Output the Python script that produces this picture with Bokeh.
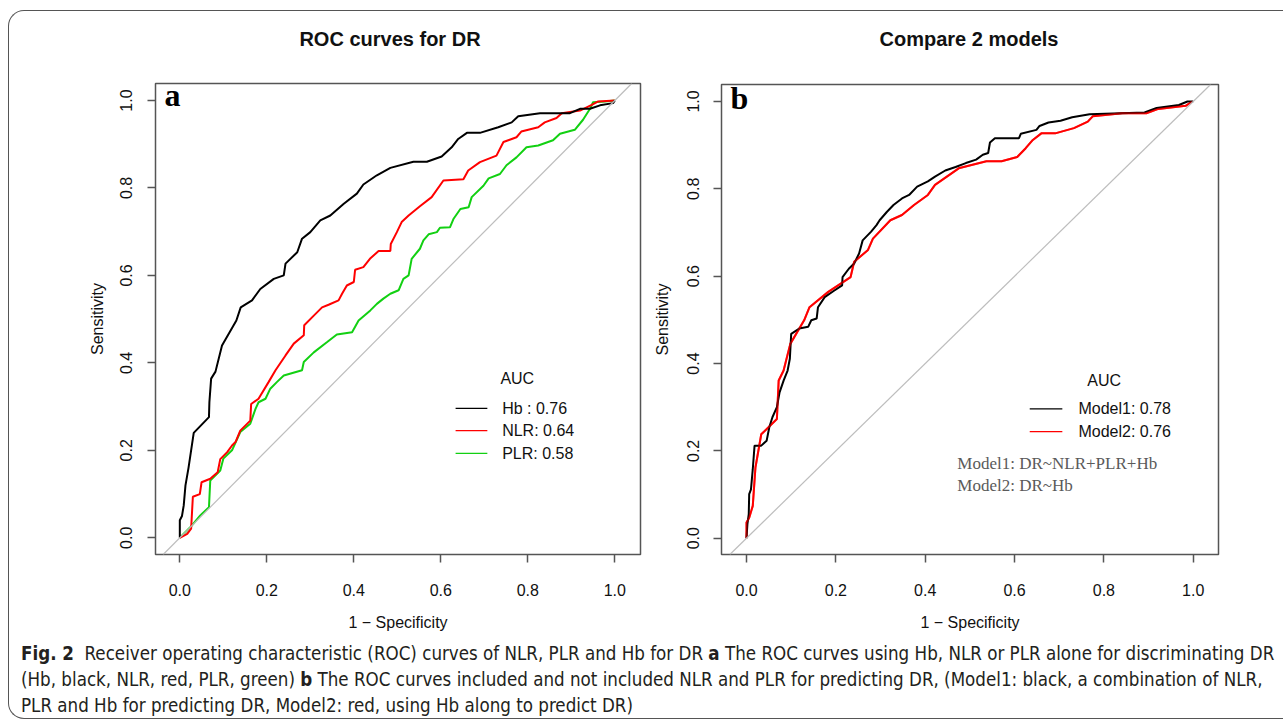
from bokeh.plotting import figure
from bokeh.models import Range1d, FixedTicker, Slope, Div
from bokeh.layouts import row, column
from bokeh.embed import file_html
from bokeh.resources import INLINE
from bokeh.core.properties import value

# ---------------- data ----------------
ticks = [0.0, 0.2, 0.4, 0.6, 0.8, 1.0]
tick_labels = ["0.0", "0.2", "0.4", "0.6", "0.8", "1.0"]

title_a = "ROC curves for DR"
title_b = "Compare 2 models"
x_label = "1 \u2212 Specificity"
y_label = "Sensitivity"

# panel a: Hb / NLR / PLR
hb_x = [0, 0, 0.005, 0.009, 0.013, 0.02, 0.032, 0.067, 0.068, 0.072, 0.082, 0.097, 0.13, 0.14, 0.166,
        0.185, 0.216, 0.239, 0.243, 0.27, 0.281, 0.3, 0.323, 0.346, 0.377, 0.407, 0.422, 0.453, 0.484,
        0.537, 0.568, 0.602, 0.625, 0.64, 0.66, 0.69, 0.732, 0.763, 0.778, 0.828, 0.897, 0.92, 0.943,
        0.966, 0.996, 1.0]
hb_y = [0, 0.04, 0.05, 0.074, 0.12, 0.16, 0.24, 0.276, 0.31, 0.364, 0.38, 0.44, 0.497, 0.527, 0.543,
        0.569, 0.592, 0.6, 0.627, 0.653, 0.684, 0.699, 0.726, 0.737, 0.764, 0.787, 0.808, 0.829, 0.846,
        0.86, 0.86, 0.872, 0.893, 0.912, 0.926, 0.926, 0.939, 0.95, 0.964, 0.971, 0.971, 0.981, 0.981,
        0.989, 0.994, 1.0]

nlr_x = [0, 0.017, 0.026, 0.03, 0.046, 0.05, 0.07, 0.087, 0.093, 0.109, 0.12, 0.128, 0.139, 0.162,
         0.164, 0.181, 0.204, 0.22, 0.243, 0.262, 0.285, 0.286, 0.308, 0.327, 0.342, 0.365, 0.373, 0.384,
         0.4, 0.403, 0.422, 0.437, 0.457, 0.484, 0.485, 0.499, 0.51, 0.526, 0.552, 0.579, 0.606, 0.652,
         0.663, 0.69, 0.728, 0.744, 0.774, 0.785, 0.824, 0.839, 0.866, 0.878, 0.92, 0.947, 0.962, 1.0]
nlr_y = [0, 0.009, 0.021, 0.094, 0.1, 0.127, 0.135, 0.15, 0.18, 0.196, 0.211, 0.219, 0.245, 0.268,
         0.306, 0.318, 0.356, 0.383, 0.417, 0.444, 0.463, 0.486, 0.508, 0.527, 0.533, 0.543, 0.558, 0.577,
         0.585, 0.613, 0.619, 0.638, 0.656, 0.656, 0.672, 0.699, 0.722, 0.737, 0.758, 0.779, 0.817, 0.82,
         0.84, 0.859, 0.874, 0.905, 0.916, 0.929, 0.939, 0.95, 0.96, 0.971, 0.977, 0.99, 0.998, 1.0]

plr_x = [0, 0.024, 0.047, 0.067, 0.07, 0.093, 0.1, 0.12, 0.139, 0.162, 0.174, 0.181, 0.197, 0.208,
         0.223, 0.239, 0.281, 0.285, 0.308, 0.338, 0.361, 0.396, 0.411, 0.438, 0.453, 0.468, 0.484, 0.503,
         0.514, 0.526, 0.533, 0.552, 0.56, 0.572, 0.591, 0.598, 0.621, 0.629, 0.645, 0.664, 0.671, 0.698,
         0.71, 0.736, 0.751, 0.774, 0.797, 0.824, 0.858, 0.874, 0.908, 0.927, 0.943, 0.95, 0.977, 1.0]
plr_y = [0, 0.024, 0.051, 0.07, 0.131, 0.154, 0.181, 0.2, 0.242, 0.261, 0.295, 0.31, 0.318, 0.341,
         0.356, 0.371, 0.383, 0.402, 0.424, 0.447, 0.465, 0.47, 0.497, 0.52, 0.535, 0.547, 0.558, 0.566,
         0.592, 0.6, 0.638, 0.661, 0.68, 0.694, 0.699, 0.709, 0.71, 0.729, 0.752, 0.756, 0.779, 0.805,
         0.822, 0.832, 0.852, 0.87, 0.893, 0.897, 0.909, 0.924, 0.933, 0.956, 0.981, 0.996, 0.998, 1.0]

# panel b: Model1 / Model2
m1_x = [0, 0.002, 0.005, 0.006, 0.01, 0.014, 0.018, 0.033, 0.045, 0.051, 0.058, 0.068, 0.074, 0.083,
        0.092, 0.097, 0.1, 0.118, 0.138, 0.145, 0.157, 0.16, 0.175, 0.195, 0.214, 0.215, 0.229, 0.241,
        0.252, 0.26, 0.279, 0.291, 0.298, 0.314, 0.329, 0.348, 0.364, 0.382, 0.406, 0.422, 0.445, 0.468,
        0.491, 0.514, 0.529, 0.541, 0.545, 0.556, 0.61, 0.614, 0.649, 0.656, 0.676, 0.703, 0.729, 0.768,
        0.891, 0.918, 0.968, 0.987, 1.0]
m1_y = [0, 0.032, 0.055, 0.101, 0.112, 0.158, 0.212, 0.212, 0.223, 0.254, 0.277, 0.3, 0.334, 0.361,
        0.384, 0.411, 0.468, 0.48, 0.484, 0.499, 0.503, 0.529, 0.552, 0.566, 0.579, 0.598, 0.617, 0.629,
        0.652, 0.682, 0.702, 0.717, 0.728, 0.747, 0.763, 0.778, 0.786, 0.805, 0.817, 0.828, 0.842, 0.85,
        0.859, 0.867, 0.878, 0.882, 0.906, 0.916, 0.916, 0.926, 0.935, 0.944, 0.952, 0.956, 0.964, 0.971,
        0.975, 0.985, 0.992, 1.0, 1.0]

m2_x = [0, 0, 0.006, 0.014, 0.02, 0.033, 0.068, 0.072, 0.083, 0.098, 0.129, 0.141, 0.183, 0.233, 0.241,
        0.272, 0.283, 0.322, 0.348, 0.375, 0.406, 0.422, 0.475, 0.537, 0.571, 0.606, 0.625, 0.641, 0.66,
        0.691, 0.733, 0.764, 0.775, 0.841, 0.895, 0.922, 0.983, 0.998]
m2_y = [0, 0.036, 0.047, 0.074, 0.162, 0.238, 0.273, 0.361, 0.384, 0.445, 0.499, 0.529, 0.564, 0.598,
        0.633, 0.66, 0.686, 0.728, 0.74, 0.763, 0.786, 0.809, 0.847, 0.863, 0.863, 0.873, 0.893, 0.912,
        0.927, 0.927, 0.939, 0.954, 0.966, 0.973, 0.973, 0.983, 0.99, 1.0]

legend_a = ["Hb : 0.76", "NLR: 0.64", "PLR: 0.58"]
legend_b = ["Model1: 0.78", "Model2: 0.76"]
notes_b = ["Model1: DR~NLR+PLR+Hb", "Model2: DR~Hb"]

caption_lines = [
    "<b>Fig. 2</b>&nbsp; Receiver operating characteristic (ROC) curves of NLR, PLR and Hb for DR "
    "<b>a</b> The ROC curves using Hb, NLR or PLR alone for discriminating DR",
    "(Hb, black, NLR, red, PLR, green) <b>b</b> The ROC curves included and not included NLR and PLR "
    "for predicting DR, (Model1: black, a combination of NLR,",
    "PLR and Hb for predicting DR, Model2: red, using Hb along to predict DR)",
]

# ---------------- styling ----------------
SANS = "Liberation Sans"
SERIF = "Liberation Serif"
BLACK = "#000000"
RED = "#FF0000"
GREEN = "#12D012"
FRAME = "#555555"


def make_panel(xr, yr, width, height, ml, mr, mt, mb, ytick_standoff, ylab_standoff):
    p = figure(width=width, height=height, x_range=Range1d(*xr), y_range=Range1d(*yr),
               output_backend="svg", toolbar_location=None,
               min_border_left=ml, min_border_right=mr, min_border_top=mt, min_border_bottom=mb)
    p.grid.visible = False
    p.outline_line_color = FRAME
    p.outline_line_width = 1.5
    p.background_fill_color = "white"
    p.border_fill_color = "white"
    for ax in (p.xaxis[0], p.yaxis[0]):
        ax.ticker = FixedTicker(ticks=ticks)
        ax.major_label_overrides = {t: l for t, l in zip(ticks, tick_labels)}
        ax.major_label_text_font = SANS
        ax.major_label_text_font_size = "16px"
        ax.major_label_text_color = "#111111"
        ax.axis_label_text_font = SANS
        ax.axis_label_text_font_size = "16px"
        ax.axis_label_text_font_style = "normal"
        ax.axis_label_text_color = "#111111"
        ax.axis_line_color = None
        ax.major_tick_line_color = FRAME
        ax.major_tick_line_width = 1.5
        ax.major_tick_out = 8
        ax.major_tick_in = 0
        ax.minor_tick_line_color = None
    p.xaxis.axis_label = x_label
    p.xaxis.major_label_standoff = 21
    p.xaxis.axis_label_standoff = 15
    p.yaxis.axis_label = y_label
    p.yaxis.major_label_orientation = "vertical"
    p.yaxis.major_label_standoff = ytick_standoff
    p.yaxis.axis_label_standoff = ylab_standoff
    p.add_layout(Slope(gradient=1, y_intercept=0, line_color="#BDBDBD", line_width=1.2))
    return p


def title_div(text, width, pad_left, inner_width):
    html = ('<div style="margin-left:%dpx;width:%dpx;height:57px;line-height:57px;text-align:center;'
            'font-family:\'Liberation Sans\',sans-serif;font-weight:bold;font-size:20px;color:#111;'
            'white-space:nowrap;">%s</div>' % (pad_left, inner_width, text))
    return Div(text=html, width=width, height=57, margin=0)


# panel a  (frame 485 x 471)
fa = make_panel((-0.0559, 1.0591), (-0.0382, 1.0389), 635, 570, 146, 4, 15, 84, 15, 12)
fa.line(plr_x, plr_y, line_color=GREEN, line_width=2)
fa.line(nlr_x, nlr_y, line_color=RED, line_width=2)
fa.line(hb_x, hb_y, line_color=BLACK, line_width=2)
fa.text([-0.035], [1.013], text=["a"], text_font=value(SERIF), text_font_style="bold",
        text_font_size="32px", text_baseline="alphabetic", text_align="left", text_color=BLACK)
fa.text([0.737], [0.364], text=["AUC"], text_font=value(SANS), text_font_size="16px",
        text_baseline="middle", text_align="left", text_color="#111111")
rows_a = [0.296, 0.245, 0.193]
for ycoord, lab, col in zip(rows_a, legend_a, [BLACK, RED, GREEN]):
    fa.segment(x0=[0.634], y0=[ycoord], x1=[0.707], y1=[ycoord], line_color=col, line_width=1.3)
    fa.text([0.741], [ycoord], text=[lab], text_font=value(SANS), text_font_size="16px",
            text_baseline="middle", text_align="left", text_color="#111111")

# panel b  (frame 497 x 470)
fb = make_panel((-0.056, 1.0566), (-0.0373, 1.0389), 639, 570, 77, 65, 16, 84, 14, 14)
fb.line(m2_x, m2_y, line_color=RED, line_width=2)
fb.line(m1_x, m1_y, line_color=BLACK, line_width=2)
fb.line(m2_x, m2_y, line_color=RED, line_width=2, line_alpha=0.55)
fb.text([-0.036], [1.008], text=["b"], text_font=value(SERIF), text_font_style="bold",
        text_font_size="32px", text_baseline="alphabetic", text_align="left", text_color=BLACK)
fb.text([0.763], [0.361], text=["AUC"], text_font=value(SANS), text_font_size="16px",
        text_baseline="middle", text_align="left", text_color="#111111")
rows_b = [0.296, 0.244]
for ycoord, lab, col in zip(rows_b, legend_b, [BLACK, RED]):
    fb.segment(x0=[0.634], y0=[ycoord], x1=[0.707], y1=[ycoord], line_color=col, line_width=1.3)
    fb.text([0.743], [ycoord], text=[lab], text_font=value(SANS), text_font_size="16px",
            text_baseline="middle", text_align="left", text_color="#111111")
for ycoord, lab in zip([0.170, 0.121], notes_b):
    fb.text([0.472], [ycoord], text=[lab], text_font=value(SERIF), text_font_size="17px",
            text_baseline="middle", text_align="left", text_color="#5a5a5a")

ta = title_div(title_a, 635, 134, 494)
tb = title_div(title_b, 639, 11, 628)

cap_html = ('<div style="padding-left:12px;padding-top:3px;font-family:\'DejaVu Sans Condensed\','
            '\'Liberation Sans Narrow\',\'Liberation Sans\',sans-serif;'
            'font-size:18.6px;line-height:26px;color:#231f20;white-space:nowrap;">'
            + "<br>".join(caption_lines) + "</div>")
cap = Div(text=cap_html, width=1274, height=80, margin=0)

layout = column(row(column(ta, fa), column(tb, fb)), cap,
                styles={"border-top": "1.5px solid #555", "border-left": "1.5px solid #555",
                        "border-bottom": "1.5px solid #555", "border-radius": "16px 0 0 16px",
                        "margin-top": "10px", "margin-left": "8px", "background": "white"})

open("out.html", "w").write(file_html(layout, INLINE))
